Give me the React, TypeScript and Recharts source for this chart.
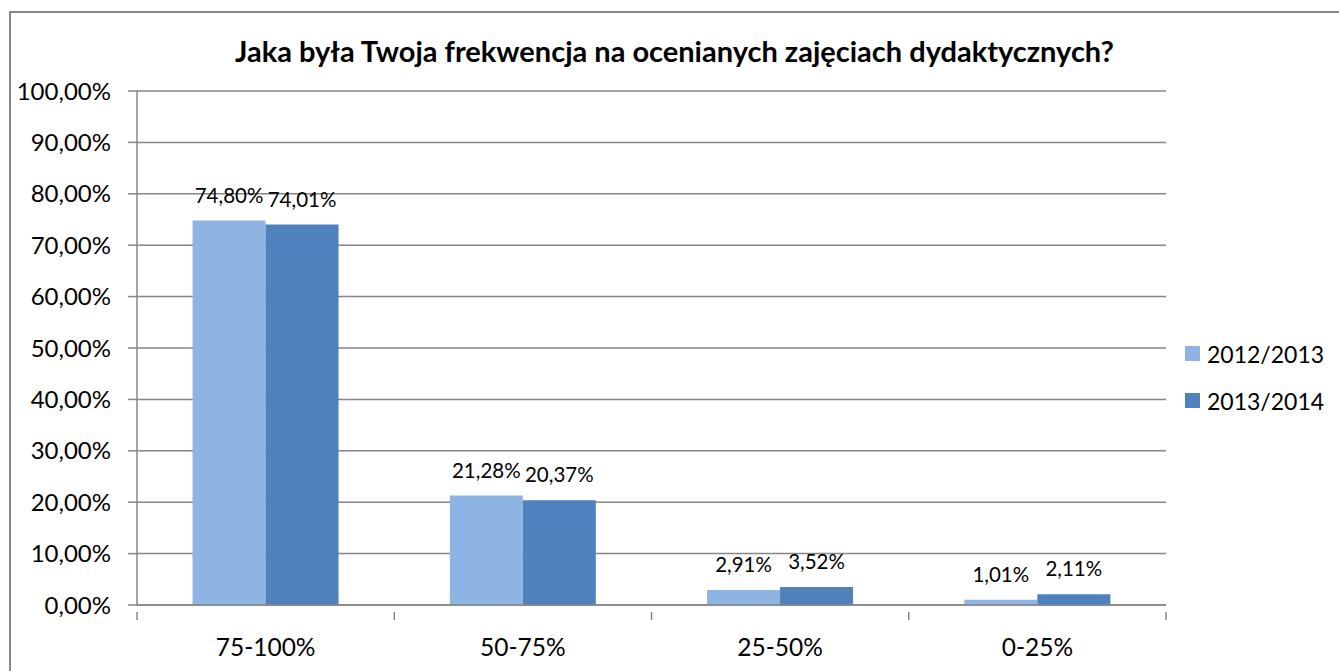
import React from "react";
import { BarChart, Bar, XAxis, YAxis, CartesianGrid, Legend, LabelList } from "recharts";

const categories = ["75-100%", "50-75%", "25-50%", "0-25%"];
const series2012 = [0.748, 0.2128, 0.0291, 0.0101];
const series2013 = [0.7401, 0.2037, 0.0352, 0.0211];
const yTicks = [0, 0.1, 0.2, 0.3, 0.4, 0.5, 0.6, 0.7, 0.8, 0.9, 1];
const seriesNames = ["2012/2013", "2013/2014"];
const title = "Jaka była Twoja frekwencja na ocenianych zajęciach dydaktycznych?";

const data = categories.map((c, i) => ({ name: c, a: series2012[i], b: series2013[i] }));

const FONT = "Lato, 'Open Sans', sans-serif";
const GRAY = "#868686";
const LIGHT = "#8EB4E3";
const DARK = "#4F81BD";

const pct = (v: number) => (v * 100).toFixed(2).replace(".", ",") + "%";

const XTick = (props: any) => {
  const { x, y, payload, index } = props;
  const off = payload.offset || 0;
  const last = index === categories.length - 1;
  return (
    <g>
      <line x1={x - off} x2={x - off} y1={y - 1} y2={y + 7} stroke={GRAY} strokeWidth={1.5} />
      {last && <line x1={x + off} x2={x + off} y1={y - 1} y2={y + 7} stroke={GRAY} strokeWidth={1.5} />}
      <text x={x} y={y + 43} textAnchor="middle" fontFamily={FONT} fontSize={24.5} fill="#000">
        {payload.value}
      </text>
    </g>
  );
};

const LegendContent = () => (
  <div style={{ fontFamily: FONT, fontSize: 23, color: "#000" }}>
    {seriesNames.map((n, i) => (
      <div key={n} style={{ display: "flex", alignItems: "center", height: 47 }}>
        <span style={{ display: "inline-block", width: 15, height: 15, background: i === 0 ? LIGHT : DARK, marginRight: 7 }} />
        <span>{n}</span>
      </div>
    ))}
  </div>
);

export default function App() {
  return (
    <div style={{ position: "absolute", left: 0, top: 0, width: 1339, height: 671, overflow: "hidden", background: "#fff" }}>
      <div style={{ position: "absolute", left: 9, top: 11, width: 1330, height: 660, borderTop: `2px solid ${GRAY}`, borderLeft: `2px solid ${GRAY}`, boxSizing: "border-box" }} />
      <div style={{ position: "absolute", left: 10, width: 1329, top: 33, textAlign: "center", fontFamily: FONT, fontWeight: 700, fontSize: 29, lineHeight: "36px", color: "#000" }}>
        {title}
      </div>
      <div style={{ position: "absolute", left: 0, top: 0 }}>
        <BarChart width={1339} height={671} data={data} margin={{ top: 91, right: 173, bottom: 26, left: 0 }} barCategoryGap="21.6%" barGap={0}>
          <CartesianGrid vertical={false} stroke={GRAY} strokeWidth={1.5} />
          <XAxis dataKey="name" axisLine={{ stroke: GRAY, strokeWidth: 1.5 }} tickLine={false} tick={<XTick />} height={40} interval={0} />
          <YAxis
            width={137}
            domain={[0, 1]}
            ticks={yTicks}
            tickFormatter={pct}
            axisLine={{ stroke: GRAY, strokeWidth: 1.5 }}
            tickLine={{ stroke: GRAY, strokeWidth: 1.5 }}
            tickSize={9}
            tickMargin={17}
            tick={{ fontFamily: FONT, fontSize: 24, fill: "#000" }}
            interval={0}
          />
          <Legend layout="vertical" align="center" verticalAlign="middle" content={<LegendContent />} wrapperStyle={{ left: 1185, top: 330, width: 154 }} />
          <Bar dataKey="a" name={seriesNames[0]} fill={LIGHT} isAnimationActive={false}>
            <LabelList dataKey="a" position="top" offset={18} formatter={pct} style={{ fontFamily: FONT, fontSize: 20.5, fill: "#000" }} />
          </Bar>
          <Bar dataKey="b" name={seriesNames[1]} fill={DARK} isAnimationActive={false}>
            <LabelList dataKey="b" position="top" offset={18} formatter={pct} style={{ fontFamily: FONT, fontSize: 20.5, fill: "#000" }} />
          </Bar>
        </BarChart>
      </div>
    </div>
  );
}
